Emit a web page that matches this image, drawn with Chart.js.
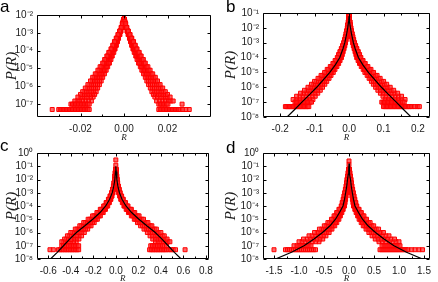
<!DOCTYPE html>
<html><head><meta charset="utf-8">
<script src="https://cdn.jsdelivr.net/npm/chart.js@4"></script>
<style>
html,body{margin:0;padding:0;background:#fff;width:438px;height:282px;overflow:hidden}
body{position:relative}
.p{position:absolute;width:219px;height:141px}
canvas{display:block}
.lab{position:absolute;font-family:"Liberation Sans",Arial,sans-serif;font-size:17px;line-height:1;color:#000}
</style></head><body>
<div class="p" style="left:0;top:0"><canvas id="ca" width="219" height="141"></canvas></div>
<div class="p" style="left:219px;top:0"><canvas id="cb" width="219" height="141"></canvas></div>
<div class="p" style="left:0;top:141px"><canvas id="cc" width="219" height="141"></canvas></div>
<div class="p" style="left:219px;top:141px"><canvas id="cd" width="219" height="141"></canvas></div>
<div class="lab" style="left:0;top:-2px">a</div>
<div class="lab" style="left:226px;top:-2px">b</div>
<div class="lab" style="left:0;top:137px">c</div>
<div class="lab" style="left:226px;top:139px">d</div>
<script>
// ---------- Panel a ----------
const A_LEVELS = [6e-3,4.2e-3,3.2e-3,2e-3,1.25e-3,8e-4,5e-4,3.2e-4,2e-4,1.25e-4,8e-5,5e-5,3.2e-5,2e-5,1.25e-5,8e-6,5e-6,3.2e-6,2e-6,1.25e-6,8e-7,5e-7,3.5e-7,2.5e-7,1.5e-7];
const A_S1 = [0,0.0002,0.0005,0.0009,0.0014,0.0019,0.0025,0.003,0.0035,0.0041,0.0047,0.0054,0.006,0.0067,0.0075,0.0082,0.009,0.0098,0.0105,0.0113,0.0121,0.0128,0.0135,0.0142,0.015];
const A_S12 = [0,0.0002,0.0005,0.0009,0.0015,0.002,0.0026,0.0032,0.0038,0.0044,0.0051,0.0058,0.0065,0.0072,0.0081,0.0088,0.0097,0.0106,0.0113,0.0122,0.013,0.0139,0.0146,0.0154,0.0164];
const A_S2 = [0,0.0003,0.0006,0.001,0.0016,0.0022,0.0028,0.0035,0.0041,0.0047,0.0055,0.0063,0.007,0.0078,0.0087,0.0095,0.0104,0.0114,0.0122,0.0131,0.014,0.015,0.0158,0.0167,0.0178];
const A_S23 = [0,0.0003,0.0006,0.0011,0.0017,0.0023,0.003,0.0037,0.0043,0.005,0.0059,0.0067,0.0075,0.0083,0.0093,0.0101,0.0111,0.0122,0.013,0.014,0.015,0.016,0.0169,0.0179,0.0191];
const A_S3 = [0,0.0003,0.0007,0.0012,0.0018,0.0025,0.0032,0.004,0.0046,0.0054,0.0063,0.0071,0.008,0.0089,0.0099,0.0108,0.0119,0.013,0.0138,0.0149,0.016,0.0171,0.018,0.0191,0.0204];
const A_S34 = [0,0.0003,0.0007,0.0012,0.0019,0.0026,0.0034,0.0042,0.0049,0.0057,0.0066,0.0075,0.0084,0.0093,0.0104,0.0114,0.0125,0.0137,0.0146,0.0157,0.0169,0.018,0.019,0.0201,0.0215];
const A_S4 = [0,0.0004,0.0008,0.0013,0.002,0.0028,0.0036,0.0044,0.0052,0.006,0.007,0.0079,0.0089,0.0098,0.011,0.012,0.0132,0.0144,0.0154,0.0166,0.0178,0.019,0.02,0.0212,0.0226];
const A_ROW1_R = [-0.033,-0.03,-0.0293,-0.0286,-0.0279,-0.0272,-0.0265,-0.0258,-0.0251,-0.0244,-0.0237,-0.023,-0.0223,-0.0216,-0.0209,-0.0202,-0.0195,-0.0188,-0.0181,-0.0174,-0.0167,-0.016,0.016,0.0167,0.0174,0.0181,0.0188,0.0195,0.0202,0.0209,0.0216,0.0223,0.023,0.0237,0.0244,0.0251,0.0258,0.027,0.0285,0.03];
const A_ROW2_R = [-0.0244,-0.0237,-0.023,-0.0223,-0.0216,-0.0209,-0.0202,-0.0195,-0.0188,-0.0181,-0.0174,-0.0167,-0.016,0.016,0.0167,0.0174,0.0181,0.0188,0.0195,0.0202,0.0267];

// ---------- Panel b ----------
const B_LEVELS = [6.3e-2,4e-2,2.5e-2,1.6e-2,1e-2,6.3e-3,4e-3,2.5e-3,1.6e-3,1e-3,6.3e-4,4e-4,2.5e-4,1.6e-4,1e-4,6.3e-5,4e-5,2.5e-5,1.6e-5,1e-5,6.3e-6,4e-6,2.5e-6,1.6e-6,1e-6,6.3e-7,4e-7,2.5e-7,1.5e-7];
const B_S1 = [0,0.0007,0.0014,0.0023,0.0033,0.0045,0.0057,0.0071,0.0086,0.0103,0.0123,0.0146,0.0172,0.0197,0.0221,0.0262,0.0303,0.0353,0.041,0.0459,0.0525,0.0582,0.0648,0.0705,0.0771,0.0836,0.091,0.0984,0.105];
const B_S12 = [0,0.0008,0.0015,0.0025,0.0036,0.0049,0.0063,0.0078,0.0094,0.0112,0.0135,0.016,0.0188,0.0215,0.0242,0.0286,0.0331,0.0385,0.0448,0.0501,0.0573,0.0636,0.0707,0.077,0.0842,0.0913,0.0994,0.1074,0.1146];
const B_S2 = [0,0.0008,0.0016,0.0027,0.0039,0.0053,0.0068,0.0084,0.0102,0.0121,0.0146,0.0173,0.0204,0.0233,0.0262,0.031,0.0359,0.0417,0.0485,0.0543,0.0621,0.0689,0.0766,0.0834,0.0912,0.0989,0.1077,0.1164,0.1242];
const B_S23 = [0,0.0009,0.0018,0.0029,0.0042,0.0058,0.0073,0.0091,0.011,0.0131,0.0157,0.0186,0.022,0.0251,0.0282,0.0334,0.0387,0.045,0.0523,0.0585,0.0669,0.0742,0.0826,0.0899,0.0983,0.1066,0.116,0.1254,0.1338];
const B_S3 = [0,0.0009,0.0019,0.0031,0.0045,0.0062,0.0078,0.0097,0.0118,0.014,0.0168,0.0199,0.0235,0.0269,0.0302,0.0358,0.0414,0.0482,0.056,0.0627,0.0717,0.0795,0.0885,0.0963,0.1053,0.1142,0.1243,0.1344,0.1434];
const B_S34 = [0,0.001,0.0021,0.0034,0.0048,0.0066,0.0084,0.0104,0.0126,0.015,0.018,0.0213,0.0251,0.0287,0.0323,0.0382,0.0442,0.0514,0.0598,0.0669,0.0765,0.0849,0.0944,0.1028,0.1124,0.1219,0.1327,0.1434,0.153];
const B_S4 = [0,0.001,0.0022,0.0036,0.0051,0.007,0.0089,0.011,0.0133,0.0159,0.0191,0.0226,0.0267,0.0305,0.0343,0.0406,0.047,0.0546,0.0635,0.0711,0.0813,0.0902,0.1003,0.1092,0.1194,0.1295,0.141,0.1524,0.1626];
const B_ROW1_R = [-0.185,-0.181,-0.177,-0.173,-0.169,-0.165,-0.161,-0.157,-0.153,-0.149,-0.145,-0.141,-0.137,-0.133,-0.129,-0.125,-0.121,-0.117,0.1,0.104,0.108,0.112,0.116,0.12,0.124,0.128,0.132,0.136,0.14,0.144,0.148,0.152,0.156,0.16,0.164,0.168,0.172,0.176,0.182,0.19,0.198,0.204];
const B_ROW2_R = [-0.157,-0.153,-0.149,-0.145,-0.141,-0.137,-0.133,-0.129,-0.125,-0.121,-0.117,-0.113,-0.109,0.095,0.099,0.103,0.107,0.111,0.115,0.119,0.123,0.127,0.131,0.135,0.139,0.143,0.147,0.151,0.155,0.16];
const B_LINE_R = [-0.18,-0.158,-0.137,-0.115,-0.094,-0.075,-0.056,-0.04,-0.027,-0.018,-0.0125,-0.007,-0.004,-0.0017,-0.0008,0,0.0008,0.0017,0.004,0.007,0.0125,0.018,0.027,0.04,0.056,0.075,0.094,0.115,0.137,0.158,0.18];
const B_LINE_P = [1e-8,3.2e-8,1e-7,3.2e-7,1e-6,3.2e-6,1e-5,3.2e-5,1e-4,3.8e-4,1e-3,4e-3,1e-2,2.5e-2,4e-2,6.3e-2,4e-2,2.5e-2,1e-2,4e-3,1e-3,3.8e-4,1e-4,3.2e-5,1e-5,3.2e-6,1e-6,3.2e-7,1e-7,3.2e-8,1e-8];

// ---------- Panel c ----------
const C_LEVELS = [5.6e-2,3.2e-2,1.8e-2,1e-2,5.6e-3,3.2e-3,1.8e-3,1e-3,5.6e-4,3.2e-4,1.8e-4,1e-4,5.6e-5,3.2e-5,1.8e-5,1e-5,5.6e-6,3.2e-6,1.8e-6,1e-6,5.6e-7,3.2e-7,2e-7];
const C_S1 = [0.0016,0.0032,0.0052,0.0072,0.0108,0.0144,0.02,0.0256,0.0344,0.044,0.0576,0.072,0.092,0.112,0.1376,0.164,0.192,0.22,0.25,0.28,0.304,0.328,0.352];
const C_S12 = [0.0018,0.0035,0.0056,0.0078,0.0117,0.0156,0.0217,0.0277,0.0372,0.0476,0.0623,0.0779,0.0995,0.121,0.1488,0.1774,0.2076,0.2379,0.2701,0.3028,0.327,0.3515,0.376];
const C_S2 = [0.0019,0.0037,0.006,0.0084,0.0126,0.0167,0.0233,0.0298,0.04,0.0512,0.067,0.0837,0.107,0.13,0.16,0.1907,0.2232,0.2558,0.2902,0.3255,0.35,0.375,0.4];
const C_S23 = [0.002,0.004,0.0065,0.009,0.0135,0.0179,0.0249,0.0319,0.0428,0.0548,0.0717,0.0896,0.1145,0.1392,0.1712,0.204,0.2388,0.2737,0.3101,0.3453,0.3725,0.3975,0.4225];
const C_S3 = [0.0021,0.0042,0.0069,0.0095,0.0143,0.0191,0.0265,0.0339,0.0456,0.0583,0.0763,0.0954,0.1219,0.1484,0.1823,0.2173,0.2544,0.2915,0.33,0.365,0.395,0.42,0.445];
const C_S34 = [0.0023,0.0045,0.0074,0.0102,0.0153,0.0204,0.0283,0.0362,0.0486,0.0622,0.0814,0.1017,0.13,0.1582,0.1944,0.2317,0.2697,0.3058,0.345,0.3825,0.4125,0.4375,0.4625];
const C_S4 = [0.0024,0.0048,0.0078,0.0108,0.0162,0.0216,0.03,0.0384,0.0516,0.066,0.0864,0.108,0.138,0.168,0.2064,0.246,0.285,0.32,0.36,0.4,0.43,0.455,0.48];
const C_ROW1_R = [-0.585,-0.555,-0.51,-0.495,-0.48,-0.465,-0.45,-0.435,-0.42,-0.405,-0.39,-0.375,-0.36,-0.345,-0.33,0.3,0.315,0.33,0.345,0.36,0.375,0.39,0.405,0.42,0.435,0.45,0.47,0.49,0.51,0.53,0.615];
const C_ROW2_R = [-0.48,-0.465,-0.45,-0.435,-0.42,-0.405,-0.39,-0.375,-0.36,-0.345,-0.33,0.31,0.325,0.34,0.355,0.37,0.385,0.4,0.415,0.43,0.45];
const C_EXTRA_R = [-0.4,0,0];
const C_EXTRA_P = [3e-7,3e-1,1.2e-1];
const C_LINE_R = [-0.58,-0.52,-0.465,-0.41,-0.35,-0.275,-0.205,-0.14,-0.09,-0.055,-0.032,-0.018,-0.009,-0.003,0,0.003,0.009,0.018,0.032,0.055,0.09,0.14,0.205,0.275,0.35,0.41,0.465,0.52,0.58];
const C_LINE_P = [1e-8,3.2e-8,1e-7,3.2e-7,1e-6,3.2e-6,1e-5,3.2e-5,1e-4,3.2e-4,1e-3,3.2e-3,1e-2,4e-2,1e-1,4e-2,1e-2,3.2e-3,1e-3,3.2e-4,1e-4,3.2e-5,1e-5,3.2e-6,1e-6,3.2e-7,1e-7,3.2e-8,1e-8];

// ---------- Panel d ----------
const D_LEVELS = [5.6e-2,3.2e-2,1.8e-2,1e-2,5.6e-3,3.2e-3,1.8e-3,1e-3,5.6e-4,3.2e-4,1.8e-4,1e-4,5.6e-5,3.2e-5,1.8e-5,1e-5,5.6e-6,3.2e-6,1.8e-6,1e-6,5.6e-7,3.2e-7,2e-7];
const D_S1 = [0.003,0.009,0.015,0.0225,0.0278,0.0338,0.042,0.0503,0.0585,0.0675,0.0788,0.09,0.1163,0.1425,0.1725,0.2025,0.2438,0.285,0.3413,0.3975,0.4613,0.525,0.6];
const D_S12 = [0.0034,0.01,0.0167,0.0251,0.0309,0.0376,0.0468,0.056,0.0652,0.0752,0.0877,0.1002,0.1295,0.1587,0.1921,0.2255,0.2714,0.3173,0.38,0.4426,0.5136,0.5845,0.668];
const D_S2 = [0.0037,0.011,0.0184,0.0276,0.034,0.0414,0.0515,0.0616,0.0718,0.0828,0.0966,0.1104,0.1426,0.1748,0.2116,0.2484,0.299,0.3496,0.4186,0.4876,0.5658,0.644,0.736];
const D_S23 = [0.0041,0.0121,0.0202,0.0303,0.0374,0.0455,0.0566,0.0677,0.0788,0.0909,0.1061,0.1212,0.1566,0.1919,0.2323,0.2727,0.3283,0.3838,0.4596,0.5353,0.6212,0.707,0.808];
const D_S3 = [0.0044,0.0132,0.022,0.033,0.0407,0.0495,0.0616,0.0737,0.0858,0.099,0.1155,0.132,0.1705,0.209,0.253,0.297,0.3575,0.418,0.5005,0.583,0.6765,0.77,0.88];
const D_S34 = [0.0048,0.0144,0.024,0.036,0.0444,0.054,0.0672,0.0804,0.0936,0.108,0.126,0.1438,0.186,0.228,0.276,0.324,0.39,0.456,0.546,0.636,0.738,0.84,0.94];
const D_S4 = [0.0052,0.0156,0.026,0.039,0.0481,0.0585,0.0728,0.0871,0.1014,0.117,0.1365,0.156,0.2015,0.247,0.299,0.351,0.4225,0.494,0.5915,0.689,0.7995,0.91,1.0];
const D_ROW1_R = [-1.5,-1.27,-1.23,-1.19,-1.15,-1.11,-1.07,-1.03,-0.99,-0.95,-0.91,-0.87,-0.83,-0.79,-0.75,-0.71,-0.67,0.62,0.66,0.7,0.74,0.78,0.82,0.86,0.9,0.94,0.98,1.02,1.06,1.1,1.14,1.18,1.25,1.32,1.4,1.47];
const D_ROW2_R = [-1.1,-1.04,-1.0,-0.96,-0.92,-0.88,-0.84,-0.8,-0.76,0.66,0.7,0.74,0.78,0.82,0.86,0.9,0.94,0.98,1.02];
const D_EXTRA_R = [0,0];
const D_EXTRA_P = [2.5e-1,1.3e-1];
const D_LINE_R = [-1.47,-1.15,-0.9,-0.7,-0.53,-0.38,-0.27,-0.19,-0.12,-0.09,-0.067,-0.045,-0.03,-0.015,-0.005,0,0.005,0.015,0.03,0.045,0.067,0.09,0.12,0.19,0.27,0.38,0.53,0.7,0.9,1.15,1.47];
const D_LINE_P = [1e-8,3.2e-8,1e-7,3.2e-7,1e-6,3.2e-6,1e-5,3.2e-5,1e-4,3.2e-4,1e-3,3.2e-3,1e-2,2.5e-2,6.3e-2,1.6e-1,6.3e-2,2.5e-2,1e-2,3.2e-3,1e-3,3.2e-4,1e-4,3.2e-5,1e-5,3.2e-6,1e-6,3.2e-7,1e-7,3.2e-8,1e-8];

// ---------- tick labels ----------
const A_XLABELS = [-0.02,0,0.02], A_XMINOR = [-0.03,-0.01,0.01,0.03];
const B_XLABELS = [-0.2,-0.1,0,0.1,0.2], B_XMINOR = [-0.15,-0.05,0.05,0.15];
const C_XLABELS = [-0.6,-0.4,-0.2,0,0.2,0.4,0.6,0.8], C_XMINOR = [-0.5,-0.3,-0.1,0.1,0.3,0.5,0.7];
const D_XLABELS = [-1.5,-1,-0.5,0,0.5,1,1.5], D_XMINOR = [-1.25,-0.75,-0.25,0.25,0.75,1.25];
const A_YTICKS = [1e-2,1e-3,1e-4,1e-5,1e-6,1e-7];
const B_YTICKS = [1e-1,1e-2,1e-3,1e-4,1e-5,1e-6,1e-7,1e-8];
const CD_YTICKS = [1,1e-1,1e-2,1e-3,1e-4,1e-5,1e-6,1e-7,1e-8];
const X_TITLE = 'R';
const Y_TITLE = 'P(R)';

const SUP = {'-':'\u207B','0':'\u2070','1':'\u00B9','2':'\u00B2','3':'\u00B3','4':'\u2074','5':'\u2075','6':'\u2076','7':'\u2077','8':'\u2078','9':'\u2079'};
function powLabel(v){const e=Math.round(Math.log10(v));return '10'+String(e).split('').map(c=>SUP[c]).join('');}

const framePlugin = {
  id:'frame',
  afterDatasetsDraw(chart){
    const o=chart.options.plugins.frame, ctx=chart.ctx, a=chart.chartArea;
    const xs=chart.scales.x, ys=chart.scales.y;
    const L=Math.round(a.left)+0.5, R=Math.round(a.right)-0.5, T=Math.round(a.top)+0.5, B=Math.round(a.bottom)-0.5;
    ctx.save(); ctx.strokeStyle='#000'; ctx.lineWidth=1; ctx.beginPath();
    ctx.rect(L,T,R-L,B-T);
    const vt=(v,len)=>{const px=Math.round(xs.getPixelForValue(v))+0.5; ctx.moveTo(px,B); ctx.lineTo(px,B-len); ctx.moveTo(px,T); ctx.lineTo(px,T+len);};
    o.xMajor.forEach(v=>vt(v,3)); o.xMinor.forEach(v=>vt(v,2));
    o.yMajor.forEach(v=>{const py=Math.round(ys.getPixelForValue(v))+0.5; ctx.moveTo(L,py); ctx.lineTo(L+3,py); ctx.moveTo(R,py); ctx.lineTo(R-3,py);});
    ctx.stroke();
    ctx.fillStyle='#1a1a1a';
    ctx.font='italic 9px "Liberation Serif", "Times New Roman", serif';
    ctx.textAlign='center'; ctx.textBaseline='alphabetic';
    ctx.fillText(X_TITLE,(a.left+a.right)/2,a.bottom+o.titleDy);
    ctx.restore();
  }
};

function makeChart(id,cfg){
  const W=219,H=141;
  const datasets=[];
  if(cfg.lineR){
    datasets.push({type:'line',data:cfg.lineR.map((r,i)=>({x:r,y:cfg.lineP[i]})),borderColor:'#000',borderWidth:1.2,pointRadius:0,fill:false,tension:0});
  }
  const pts=[];
  cfg.strands.forEach(s=>s.forEach((r,i)=>{pts.push({x:-r,y:cfg.levels[i]}); if(r>0) pts.push({x:r,y:cfg.levels[i]});}));
  cfg.row1.forEach(r=>pts.push({x:r,y:5e-8}));
  cfg.row2.forEach(r=>pts.push({x:r,y:1e-7}));
  if(cfg.extraR) cfg.extraR.forEach((r,i)=>pts.push({x:r,y:cfg.extraP[i]}));
  datasets.push({type:'scatter',data:pts,pointStyle:'rect',pointRadius:2.8,borderWidth:1,borderColor:'#ff0000',backgroundColor:'rgba(255,40,40,0.7)'});
  new Chart(document.getElementById(id),{
    type:'scatter',
    data:{datasets},
    options:{
      responsive:false,animation:false,devicePixelRatio:1,
      layout:{padding:{left:0,top:cfg.top,right:W-cfg.right,bottom:0}},
      plugins:{legend:{display:false},tooltip:{enabled:false},frame:{xMajor:cfg.xLabels,xMinor:cfg.xMinor,yMajor:cfg.yTicks,titleDy:cfg.titleDy}},
      scales:{
        x:{type:'linear',min:cfg.xmin,max:cfg.xmax,
          afterBuildTicks:s=>{s.ticks=cfg.xLabels.map(v=>({value:v}));},
          afterFit:s=>{s.height=H-cfg.bottom;},
          grid:{display:false,drawTicks:false},border:{display:false},
          ticks:{padding:6,autoSkip:false,maxRotation:0,color:'#1a1a1a',font:{family:'"Liberation Sans", Arial, sans-serif',size:10},callback:v=>Number(v).toFixed(cfg.dec)},
          title:{display:false}},
        y:{type:'logarithmic',min:cfg.ymin,max:cfg.ymax,
          afterBuildTicks:s=>{s.ticks=cfg.yTicks.map(v=>({value:v}));},
          afterFit:s=>{s.width=cfg.left;},
          grid:{display:false,drawTicks:false},border:{display:false},
          ticks:{padding:4,autoSkip:false,color:'#1a1a1a',font:{family:'"Liberation Sans", Arial, sans-serif',size:10},callback:v=>powLabel(v)},
          title:{display:true,text:Y_TITLE,color:'#1a1a1a',font:{family:'"Liberation Serif", "Times New Roman", serif',style:'italic',size:15},padding:{top:3,bottom:0}}}
      }
    },
    plugins:[framePlugin]
  });
}

makeChart('ca',{left:37,right:211,top:15,bottom:117,titleDy:23,xmin:-0.04,xmax:0.04,dec:2,xLabels:A_XLABELS,xMinor:A_XMINOR,ymin:1.9e-8,ymax:1e-2,yTicks:A_YTICKS,
  levels:A_LEVELS,strands:[A_S1,A_S12,A_S2,A_S23,A_S3,A_S34,A_S4],row1:A_ROW1_R,row2:A_ROW2_R});
makeChart('cb',{left:44,right:211,top:13,bottom:117,titleDy:23,xmin:-0.25,xmax:0.235,dec:1,xLabels:B_XLABELS,xMinor:B_XMINOR,ymin:1e-8,ymax:1e-1,yTicks:B_YTICKS,
  levels:B_LEVELS,strands:[B_S1,B_S12,B_S2,B_S23,B_S3,B_S34,B_S4],row1:B_ROW1_R,row2:B_ROW2_R,lineR:B_LINE_R,lineP:B_LINE_P});
makeChart('cc',{left:37,right:211,top:12,bottom:118,titleDy:22,xmin:-0.7,xmax:0.825,dec:1,xLabels:C_XLABELS,xMinor:C_XMINOR,ymin:1e-8,ymax:1,yTicks:CD_YTICKS,
  levels:C_LEVELS,strands:[C_S1,C_S12,C_S2,C_S23,C_S3,C_S34,C_S4],row1:C_ROW1_R,row2:C_ROW2_R,extraR:C_EXTRA_R,extraP:C_EXTRA_P,lineR:C_LINE_R,lineP:C_LINE_P});
makeChart('cd',{left:44,right:211,top:12,bottom:118,titleDy:22,xmin:-1.72,xmax:1.62,dec:1,xLabels:D_XLABELS,xMinor:D_XMINOR,ymin:1e-8,ymax:1,yTicks:CD_YTICKS,
  levels:D_LEVELS,strands:[D_S1,D_S12,D_S2,D_S23,D_S3,D_S34,D_S4],row1:D_ROW1_R,row2:D_ROW2_R,extraR:D_EXTRA_R,extraP:D_EXTRA_P,lineR:D_LINE_R,lineP:D_LINE_P});
</script>
</body></html>
